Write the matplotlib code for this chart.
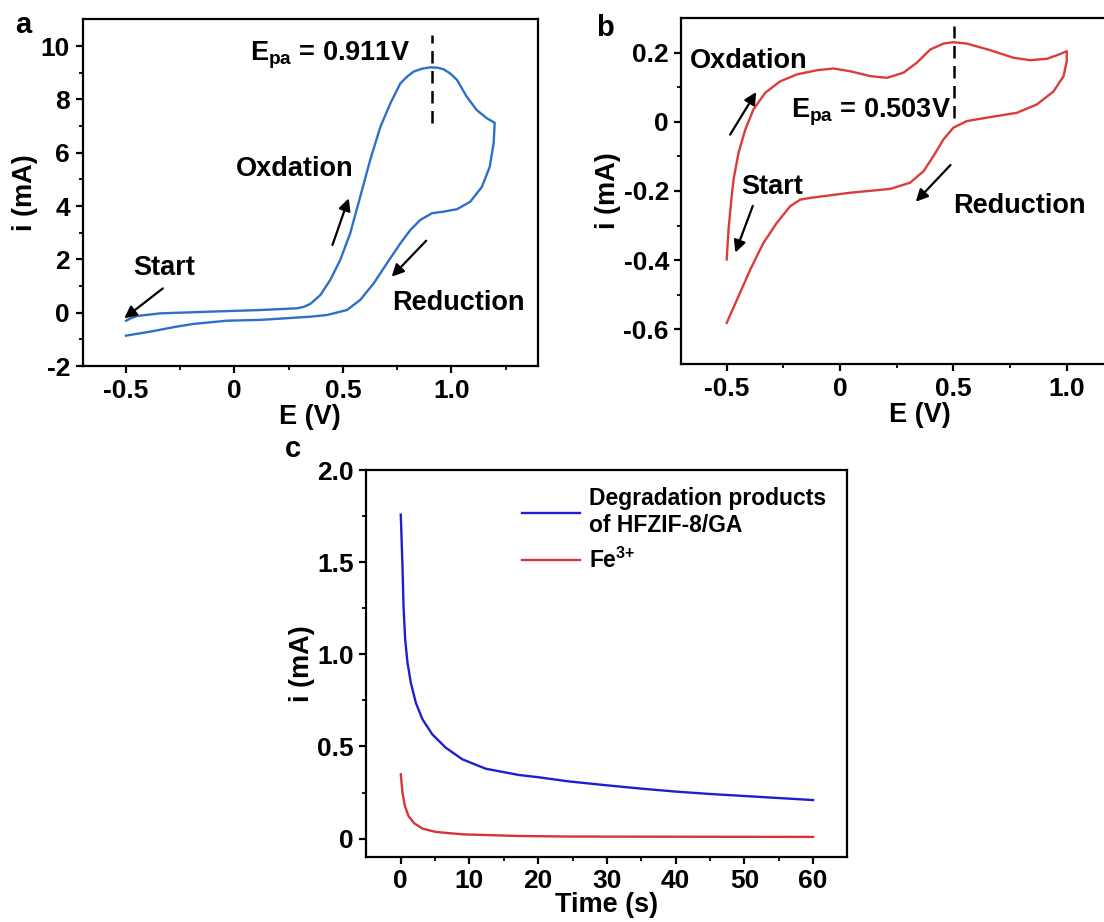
import numpy as np
import matplotlib
matplotlib.use('Agg')
import matplotlib.pyplot as plt

plt.rcParams['font.family'] = ['Liberation Sans', 'DejaVu Sans']
plt.rcParams['font.weight'] = 'bold'
plt.rcParams['axes.unicode_minus'] = False
plt.rcParams['mathtext.fontset'] = 'custom'
plt.rcParams['mathtext.rm'] = 'Liberation Sans:bold'
plt.rcParams['mathtext.bf'] = 'Liberation Sans:bold'
plt.rcParams['mathtext.it'] = 'Liberation Sans:bold'

# panel a: CV of degradation products (E in V, i in mA)
a_E = [-0.5, -0.475, -0.449, -0.342, -0.111, 0.119, 0.288, 0.32, 0.35, 0.396, 0.442, 0.488,
       0.534, 0.58, 0.626, 0.673, 0.719, 0.765, 0.796, 0.826, 0.865, 0.903, 0.935, 0.964,
       0.995, 1.026, 1.071, 1.117, 1.164, 1.2,
       1.195, 1.177, 1.141, 1.087, 1.026, 0.964, 0.911, 0.857, 0.811, 0.765, 0.703, 0.642,
       0.58, 0.519, 0.427, 0.35, 0.119, -0.034, -0.188, -0.265, -0.388, -0.5]
a_i = [-0.30, -0.2, -0.124, -0.025, 0.04, 0.10, 0.165, 0.22, 0.33, 0.66, 1.23, 1.98,
       2.98, 4.35, 5.73, 6.97, 7.85, 8.6, 8.85, 9.04, 9.15, 9.2, 9.19, 9.13,
       8.97, 8.73, 8.1, 7.6, 7.29, 7.12,
       6.35, 5.47, 4.72, 4.16, 3.88, 3.79, 3.73, 3.48, 3.1, 2.6, 1.85, 1.1,
       0.48, 0.10, -0.086, -0.15, -0.27, -0.30, -0.42, -0.52, -0.71, -0.86]

# panel b: CV of Fe3+
b_E = [-0.5, -0.492, -0.481, -0.47, -0.448, -0.418, -0.382, -0.33, -0.264, -0.19, -0.102,
       -0.029, 0.045, 0.133, 0.207, 0.28, 0.339, 0.398, 0.456, 0.5, 0.559, 0.662, 0.765,
       0.839, 0.912, 0.964, 1.0,
       1.0, 0.986, 0.942, 0.868, 0.78, 0.648, 0.559, 0.5, 0.456, 0.412, 0.368, 0.309, 0.221,
       0.045, -0.132, -0.176, -0.22, -0.279, -0.338, -0.396, -0.448, -0.5]
b_i = [-0.398, -0.311, -0.234, -0.167, -0.09, -0.022, 0.036, 0.084, 0.117, 0.137, 0.149,
       0.154, 0.146, 0.132, 0.127, 0.142, 0.171, 0.209, 0.226, 0.23, 0.226, 0.207, 0.185,
       0.178, 0.182, 0.194, 0.204,
       0.175, 0.132, 0.088, 0.05, 0.026, 0.012, 0.002, -0.017, -0.051, -0.099, -0.143, -0.176,
       -0.194, -0.205, -0.22, -0.225, -0.244, -0.292, -0.35, -0.427, -0.504, -0.581]

# panel c: chronoamperometry
c_t_hf = [0, 0.25, 0.4, 0.64, 0.98, 1.46, 2.19, 3.16, 4.6, 6.55, 8.97, 12.37, 17.2, 20,
          24.5, 30, 35, 40, 45, 50, 55, 60]
c_i_hf = [1.758, 1.478, 1.261, 1.08, 0.954, 0.846, 0.737, 0.647, 0.565, 0.493, 0.43, 0.379,
          0.345, 0.333, 0.31, 0.289, 0.271, 0.255, 0.242, 0.231, 0.22, 0.209]
c_t_fe = [0, 0.25, 0.6, 1.13, 1.95, 3.16, 5.1, 8.97, 17.2, 24.5, 40, 60]
c_i_fe = [0.349, 0.249, 0.177, 0.122, 0.083, 0.054, 0.036, 0.023, 0.014, 0.011, 0.01, 0.009]

FS = 19
TFS = 19.5

fig = plt.figure(figsize=(11.04, 9.22), dpi=100)


def style(ax):
    for s in ax.spines.values():
        s.set_linewidth(1.6)
    ax.tick_params(which='major', direction='out', length=5, width=1.6, labelsize=FS, pad=4)
    ax.tick_params(which='minor', direction='out', length=3, width=1.3)
    for lab in ax.get_xticklabels() + ax.get_yticklabels():
        lab.set_fontweight('bold')


def arrow(ax, x0, y0, x1, y1):
    ax.annotate('', xy=(x1, y1), xytext=(x0, y0),
                arrowprops=dict(arrowstyle='-|>', color='black', lw=1.6, mutation_scale=18,
                                shrinkA=0, shrinkB=0))


# ---- a ----
ax = fig.add_axes([0.0748, 0.603, 0.4126, 0.376])
ax.plot(a_E, a_i, color='#2e6fc8', lw=1.7, solid_joinstyle='round')
ax.plot([0.911, 0.911], [7.1, 10.4], 'k--', lw=1.8, dashes=(5, 3))
ax.set_xlim(-0.7, 1.4)
ax.set_ylim(-2, 11)
ax.set_xticks([-0.5, 0, 0.5, 1.0])
ax.set_xticklabels(['-0.5', '0', '0.5', '1.0'])
ax.set_xticks([-0.25, 0.25, 0.75, 1.25], minor=True)
ax.set_yticks([-2, 0, 2, 4, 6, 8, 10])
ax.set_yticks([-1, 1, 3, 5, 7, 9], minor=True)
ax.set_xlabel('E (V)', fontsize=TFS, fontweight='bold', labelpad=1)
ax.set_ylabel('i (mA)', fontsize=TFS, fontweight='bold', labelpad=2)
style(ax)
ax.text(0.072, 9.66, r'E$_{\rm pa}$ = 0.911V', fontsize=TFS, fontweight='bold', va='center')
ax.text(0.005, 5.38, 'Oxdation', fontsize=TFS, fontweight='bold', va='center')
ax.text(-0.468, 1.69, 'Start', fontsize=TFS, fontweight='bold', va='center')
ax.text(0.725, 0.35, 'Reduction', fontsize=TFS, fontweight='bold', va='center')
arrow(ax, 0.452, 2.54, 0.527, 4.29)
arrow(ax, -0.33, 0.91, -0.508, -0.21)
arrow(ax, 0.884, 2.7, 0.725, 1.35)
fig.text(0.014, 0.973, 'a', fontsize=21, fontweight='bold', va='center')

# ---- b ----
ax = fig.add_axes([0.6172, 0.6052, 0.4312, 0.3753])
ax.plot(b_E, b_i, color='#dd3b3b', lw=1.7, solid_joinstyle='round')
ax.plot([0.503, 0.503], [0.012, 0.276], 'k--', lw=1.8, dashes=(5, 3))
ax.set_xlim(-0.7, 1.4)
ax.set_ylim(-0.7, 0.3)
ax.set_xticks([-0.5, 0, 0.5, 1.0])
ax.set_xticklabels(['-0.5', '0', '0.5', '1.0'])
ax.set_xticks([-0.25, 0.25, 0.75, 1.25], minor=True)
ax.set_yticks([-0.6, -0.4, -0.2, 0, 0.2])
ax.set_yticklabels(['-0.6', '-0.4', '-0.2', '0', '0.2'])
ax.set_yticks([-0.5, -0.3, -0.1, 0.1], minor=True)
ax.set_xlabel('E (V)', fontsize=TFS, fontweight='bold', labelpad=1)
ax.set_ylabel('i (mA)', fontsize=TFS, fontweight='bold', labelpad=2)
style(ax)
ax.text(-0.217, 0.026, r'E$_{\rm pa}$ = 0.503V', fontsize=TFS, fontweight='bold', va='center')
ax.text(-0.664, 0.177, 'Oxdation', fontsize=TFS, fontweight='bold', va='center')
ax.text(-0.434, -0.1875, 'Start', fontsize=TFS, fontweight='bold', va='center')
ax.text(0.5, -0.243, 'Reduction', fontsize=TFS, fontweight='bold', va='center')
arrow(ax, -0.485, -0.037, -0.37, 0.086)
arrow(ax, -0.385, -0.243, -0.462, -0.378)
arrow(ax, 0.487, -0.125, 0.334, -0.231)
fig.text(0.540, 0.970, 'b', fontsize=21, fontweight='bold', va='center')

# ---- c ----
ax = fig.add_axes([0.3319, 0.0705, 0.4357, 0.4197])
ax.plot(c_t_hf, c_i_hf, color='#1f1fd0', lw=1.7, label='Degradation products\nof HFZIF-8/GA')
ax.plot(c_t_fe, c_i_fe, color='#d8343a', lw=1.7, label=r'Fe$^{3{+}}$')
ax.set_xlim(-5, 65)
ax.set_ylim(-0.1, 2.0)
ax.set_xticks([0, 10, 20, 30, 40, 50, 60])
ax.set_xticks([5, 15, 25, 35, 45, 55], minor=True)
ax.set_yticks([0, 0.5, 1.0, 1.5, 2.0])
ax.set_yticklabels(['0', '0.5', '1.0', '1.5', '2.0'])
ax.set_yticks([0.25, 0.75, 1.25, 1.75], minor=True)
ax.set_xlabel('Time (s)', fontsize=TFS, fontweight='bold', labelpad=-1)
ax.set_ylabel('i (mA)', fontsize=TFS, fontweight='bold', labelpad=2)
style(ax)
ax.legend(loc='upper left', bbox_to_anchor=(0.324, 0.955), frameon=False, fontsize=16.5,
          handlelength=2.5, handletextpad=0.4, labelspacing=0.45, borderpad=0,
          borderaxespad=0)
fig.text(0.258, 0.513, 'c', fontsize=21, fontweight='bold', va='center')

fig.savefig('out.png', dpi=100)
